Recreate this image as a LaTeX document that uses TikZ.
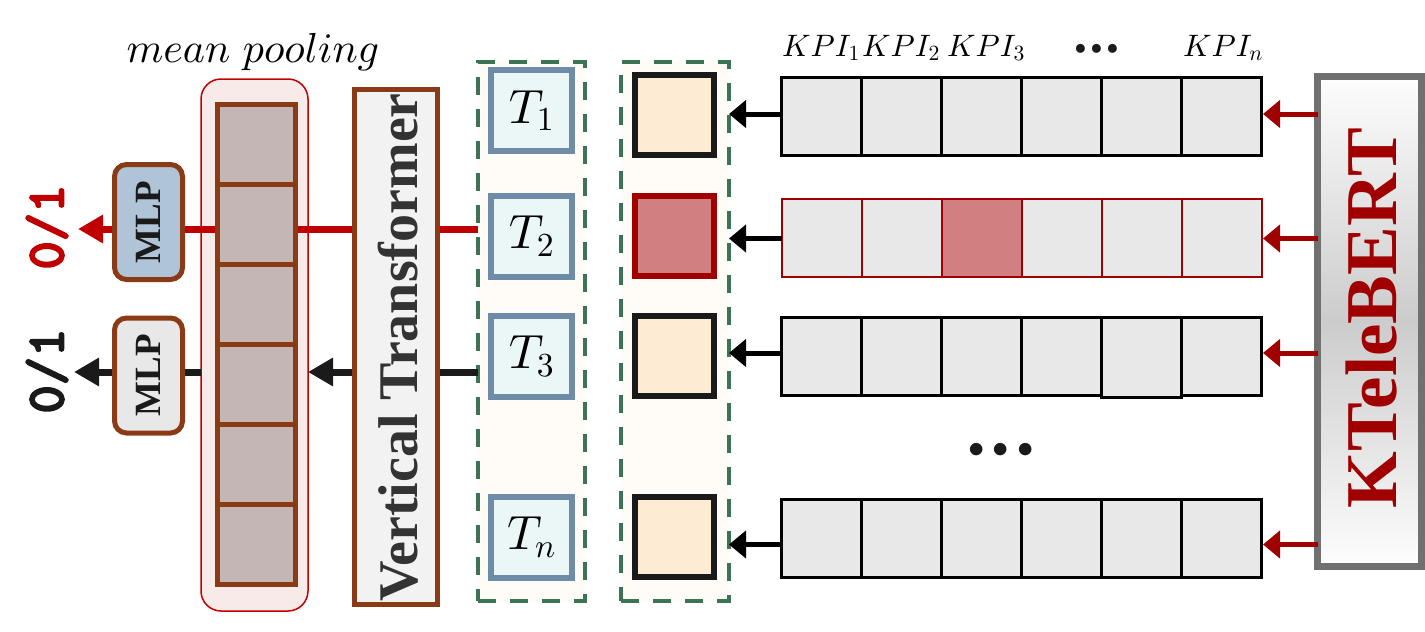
\documentclass[tikz,border=0pt]{standalone}
\usepackage{fontspec}
\newfontfamily\tnr{Liberation Serif}
\newfontfamily\ttb{lmmonolt10-bold}[Extension=.otf, FakeBold=3]
\DeclareFontShape{OML}{cmm}{m}{it}{<->cmmi10}{}
\DeclareFontShape{OMS}{cmsy}{m}{n}{<->cmsy10}{}
\DeclareFontShape{OT1}{cmr}{m}{n}{<->cmr10}{}
\usetikzlibrary{arrows.meta,calc}
\definecolor{brn}{HTML}{8B3A16}
\definecolor{cellc}{HTML}{C4B6B5}
\definecolor{pinkf}{HTML}{F9EAEA}
\definecolor{redl}{HTML}{C00000}
\definecolor{dred}{HTML}{A00000}
\definecolor{grnd}{HTML}{3B7355}
\definecolor{cream}{HTML}{FFFCF7}
\definecolor{tbord}{HTML}{6E8CA8}
\definecolor{tfill}{HTML}{EBF7F7}
\definecolor{peach}{HTML}{FDEBD3}
\definecolor{hred}{HTML}{D08080}
\definecolor{kgray}{HTML}{E8E8E8}
\definecolor{mlpb}{HTML}{B0C4D8}
\definecolor{mlpg}{HTML}{E8E8E8}
\definecolor{vtf}{HTML}{F2F2F2}
\definecolor{txtd}{HTML}{333333}
\definecolor{blk}{HTML}{1A1A1A}
\definecolor{kbb}{HTML}{707070}
\newcommand\fsz[1]{\fontsize{#1}{#1}\selectfont}
\newcommand\bul[1]{\textbullet\kern#1\textbullet\kern#1\textbullet}
\begin{document}
\begin{tikzpicture}[x=1pt,y=-1pt,
  bx/.style={inner sep=0pt, outer sep=0pt},
  poolbox/.style={bx, draw=redl, line width=1.5pt, fill=pinkf, rounded corners=20pt, minimum width=107pt, minimum height=532pt},
  pcell/.style={bx, draw=brn, line width=5pt, fill=cellc, minimum width=78pt, minimum height=80pt},
  vtbox/.style={bx, draw=brn, line width=5pt, fill=vtf, rotate=90, minimum width=515pt, minimum height=83pt},
  vttext/.style={rotate=90, text=txtd, font=\fsz{56}\tnr\bfseries},
  mlpbox/.style={bx, draw=brn, line width=5pt, rounded corners=12pt, rotate=90, minimum width=115pt, minimum height=68pt, text=blk, font=\fsz{37}\tnr\bfseries},
  dbox/.style={bx, draw=grnd, line width=4pt, dash pattern=on 18pt off 14pt, fill=cream, minimum height=539pt},
  tbox/.style={bx, draw=tbord, line width=6pt, fill=tfill, minimum width=81pt, minimum height=81pt, font=\fsz{48}},
  sq/.style={bx, draw=blk, line width=6pt, fill=peach, minimum width=79pt, minimum height=80pt},
  kcell/.style={bx, draw=black, line width=2.8pt, fill=kgray, minimum width=80pt, minimum height=78pt},
  kcellr/.style={bx, draw=dred, line width=2pt, fill=kgray, minimum width=80pt, minimum height=78pt},
  kbbox/.style={bx, draw=kbb, line width=7pt, minimum width=104pt, minimum height=490pt, top color=white!90!black!8, bottom color=white!90!black!8, middle color=black!20},
  bigarr/.style={line width=7pt, -{Triangle[length=25pt,width=27pt]}},
  smallarr/.style={line width=5pt, -{Triangle[length=17pt,width=27pt]}},
  outlab/.style={rotate=90, font=\fsz{54}\ttb}
]
\useasboundingbox (0,0) rectangle (1425,632);

% pooling container
\node[poolbox] (pool) at (254.5,345) {};

% coordinates for connectors
\coordinate (rend) at (78,229);
\coordinate (bend) at (74,372);
\coordinate (k1) at (1263,114);
\coordinate (k2) at (1263,238.5);
\coordinate (k3) at (1263,353);
\coordinate (k4) at (1263,544.5);

% dashed columns
\node[dbox, minimum width=107pt] (dL) at (531.5,331.5) {};
\node[dbox, minimum width=108pt] (dR) at (675,331.5) {};

% left connectors (behind boxes)
\draw[bigarr, draw=redl, color=redl] (dL.west |- rend) -- (rend);
\draw[bigarr, draw=blk, color=blk] (dL.west |- bend) -- (pool.east |- bend);
\draw[bigarr, draw=blk, color=blk] (pool.west |- bend) -- (bend);

% pooled cells
\foreach \i in {1,...,6}
  \node[pcell] (c\i) at (256.5,{64.5+80*\i}) {};

% vertical transformer
\node[vtbox] (vt) at (396,347) {};
\node[vttext] (vtt) at (398,347.5) {Vertical Transformer};

% MLPs
\node[mlpbox, fill=mlpb] (m1) at (148.5,222) {MLP};
\node[mlpbox, fill=mlpg] (m2) at (148.5,375.5) {MLP};

% outputs
\node[outlab, text=redl] (o1) at (47,227) {0/1};
\node[outlab, text=blk] (o2) at (47,371) {0/1};

\node[anchor=base] (mp) at (253,62) {\fsz{42}$mean\ pooling$};

% T boxes
\node[tbox] (t1) at (531.5,110.5) {$T_1$};
\node[tbox] (t2) at (531.5,236) {$T_2$};
\node[tbox] (t3) at (531.5,356) {$T_3$};
\node[tbox] (tn) at (531.5,537) {$T_n$};

% squares
\node[sq] (s1) at (674.5,115) {};
\node[sq, draw=dred, fill=hred] (s2) at (674.5,236) {};
\node[sq] (s3) at (674.5,356) {};
\node[sq] (s4) at (674.5,536.5) {};

% KPI rows
\foreach \c in {1,...,6} \node[kcell] (r1c\c) at ({741.5+80*\c},116.5) {};
\foreach \c in {1,...,6} \node[kcellr] (r2c\c) at ({741.5+80*\c},237.5) {};
\node[kcellr, fill=hred] at (r2c3) {};
\foreach \c in {1,...,6} {
  \pgfmathsetmacro\ext{\c==5 ? 2 : 0}
  \node[kcell, minimum height=78pt+\ext pt] (r3c\c) at ({741.5+80*\c},{356.5+\ext/2}) {};
}
\foreach \c in {1,...,6} \node[kcell] (r4c\c) at ({741.5+80*\c},538.5) {};

% KPI labels
\node[anchor=base, font=\fsz{31}] (l1) at (821,56) {$KPI_1$};
\node[anchor=base, font=\fsz{31}] (l2) at (901,56) {$KPI_2$};
\node[anchor=base, font=\fsz{31}] (l3) at (986,56) {$KPI_3$};
\node[anchor=base, font=\fsz{40}, text=blk] (ld) at (1097,59) {\bul{-13pt}};
\node[anchor=base, font=\fsz{31}] (ln) at (1223,56) {$KPI_n$};
\node[anchor=base, font=\fsz{56}, text=blk] (vd) at (1001,464) {\bul{-16pt}};

% arrows rows -> squares
\draw[smallarr, draw=black, color=black] (r1c1.west |- k1) -- (dR.east |- k1);
\draw[smallarr, draw=black, color=black] (r2c1.west |- k2) -- (dR.east |- k2);
\draw[smallarr, draw=black, color=black] (r3c1.west |- k3) -- (dR.east |- k3);
\draw[smallarr, draw=black, color=black] (r4c1.west |- k4) -- (dR.east |- k4);

% KTeleBERT
\node[kbbox] (kb) at (1369.5,321.5) {};
\draw[smallarr, draw=dred, color=dred] (kb.west |- k1) -- (k1);
\draw[smallarr, draw=dred, color=dred] (kb.west |- k2) -- (k2);
\draw[smallarr, draw=dred, color=dred] (kb.west |- k3) -- (k3);
\draw[smallarr, draw=dred, color=dred] (kb.west |- k4) -- (k4);
\node[rotate=90, text=dred, font=\fsz{73}\tnr\bfseries] (kbt) at (1371,318) {KTeleBERT};
\end{tikzpicture}
\end{document}
